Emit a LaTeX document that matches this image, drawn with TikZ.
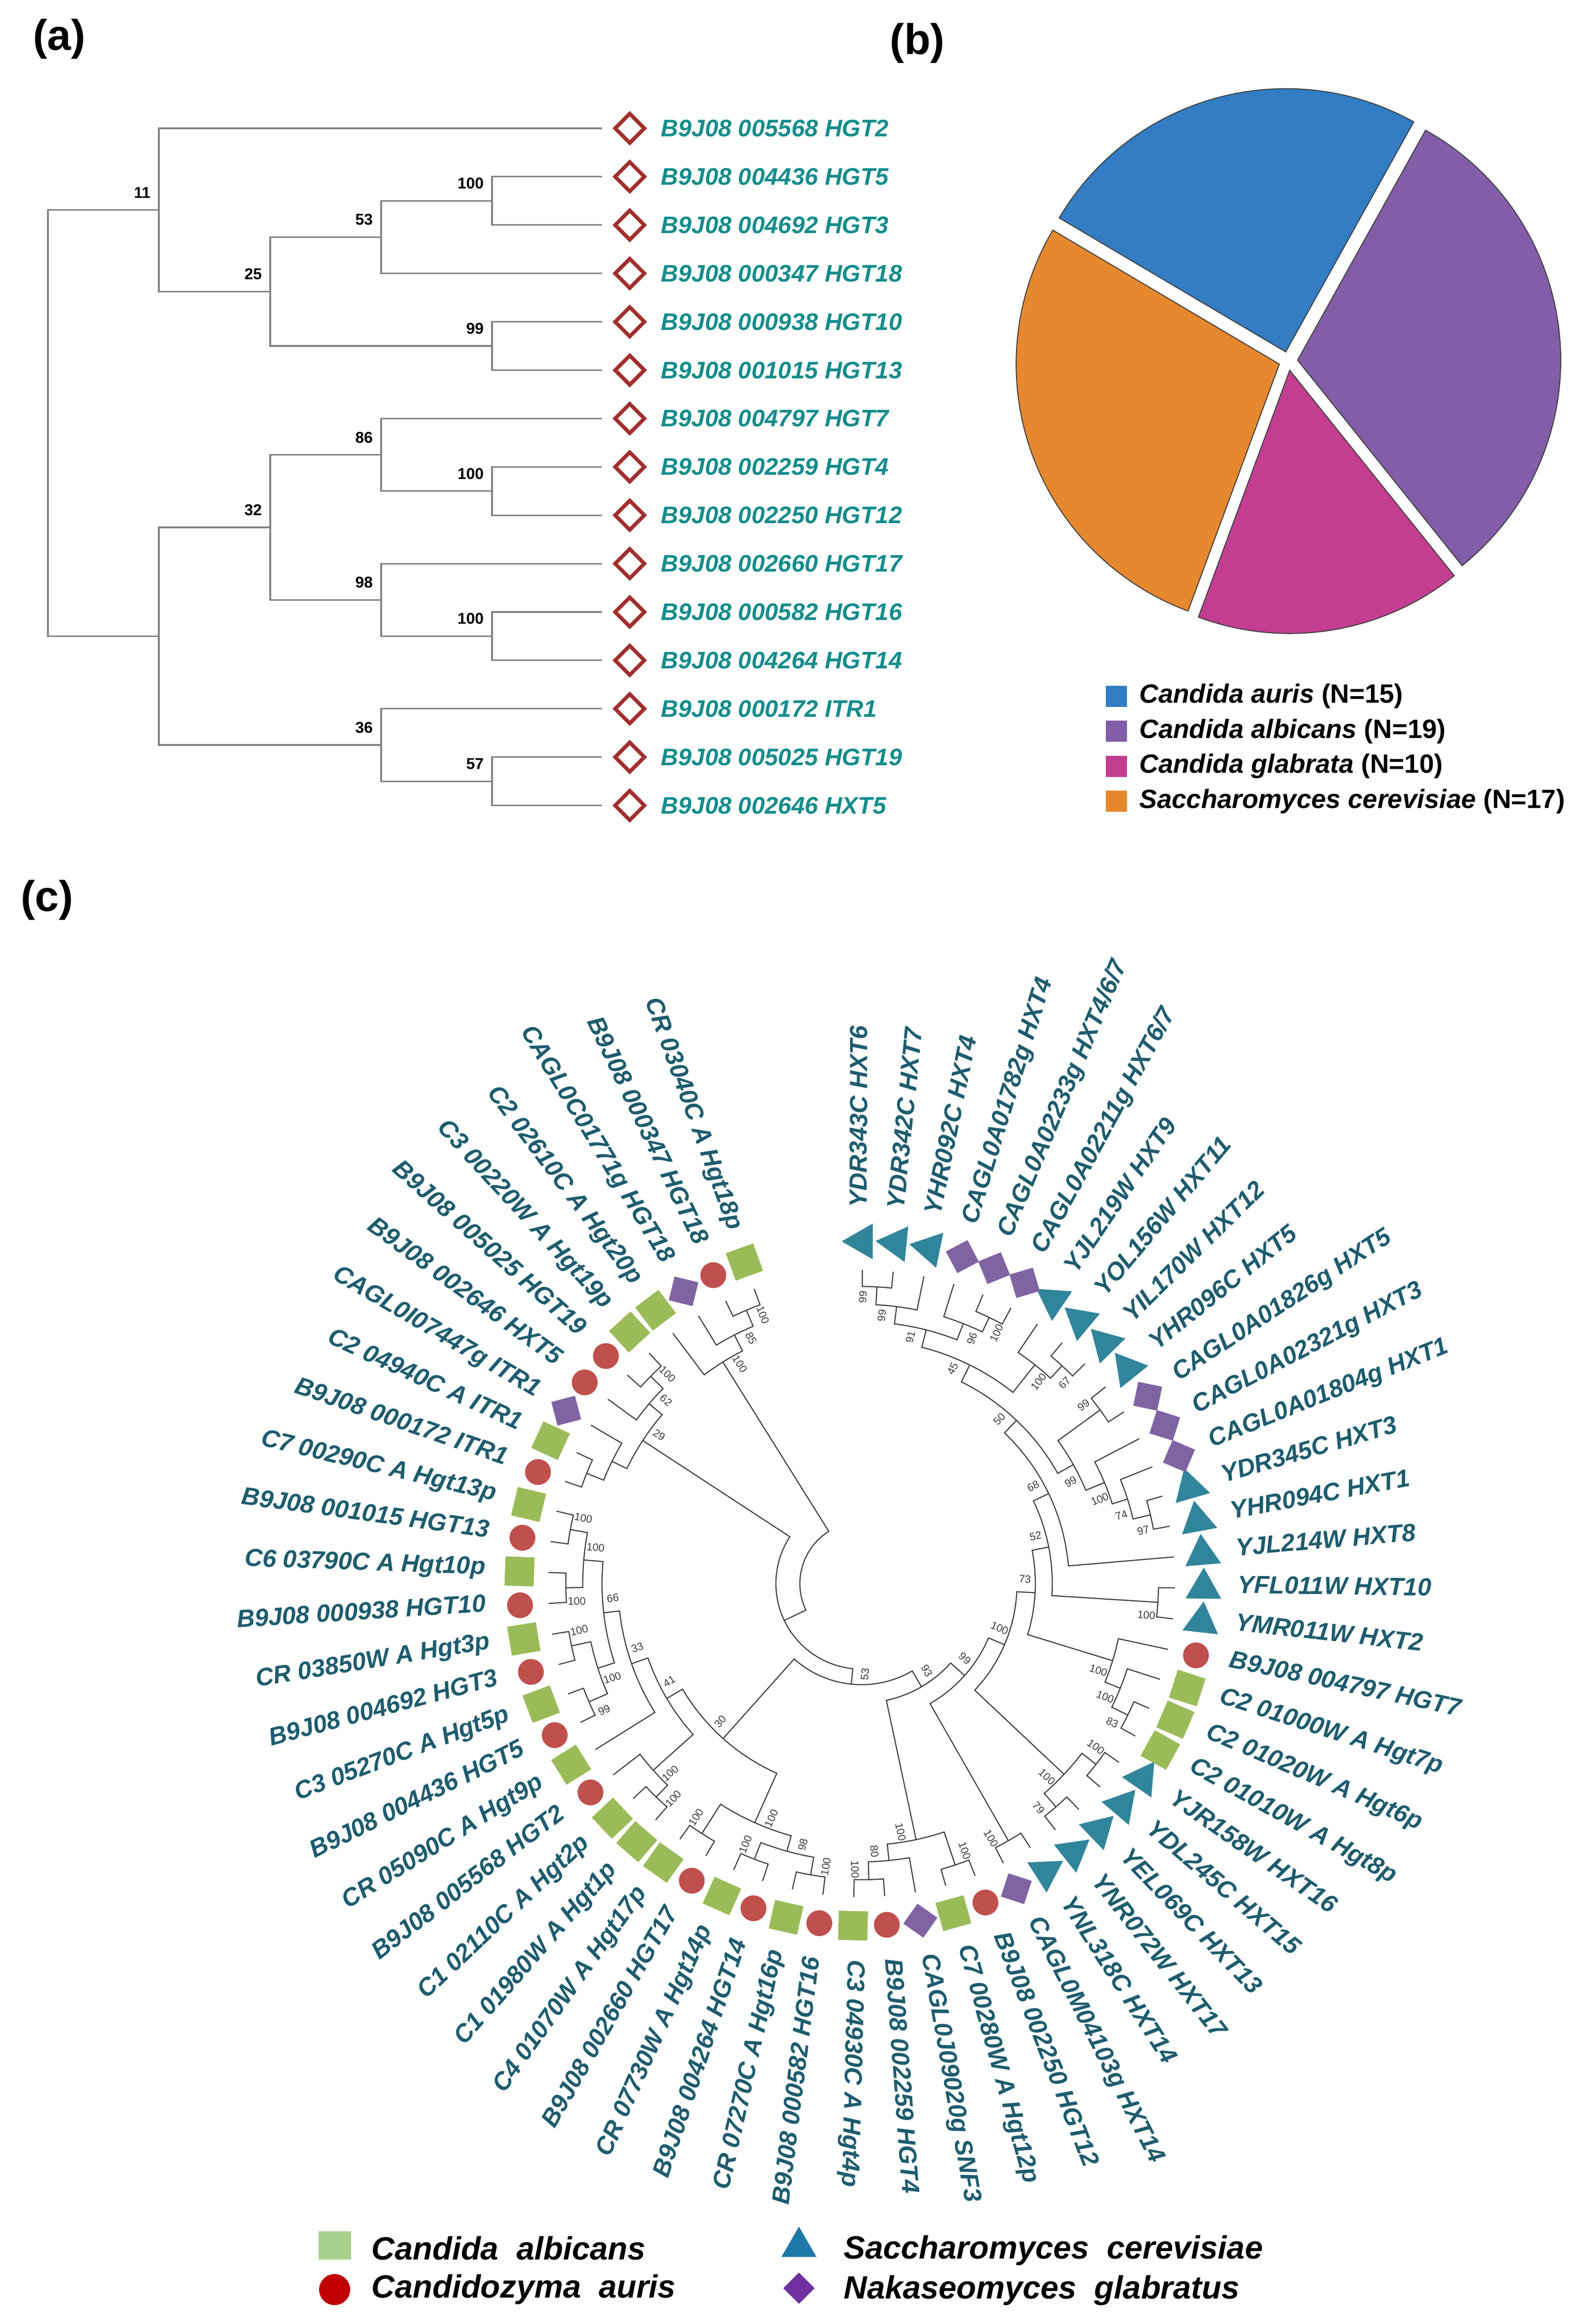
\documentclass[tikz,border=0pt]{standalone}
\usepackage{fontspec}
\setmainfont{Liberation Sans}
\usetikzlibrary{shapes.geometric}

\definecolor{atxt}{RGB}{22,140,140}
\definecolor{adred}{RGB}{160,48,46}
\definecolor{agray}{RGB}{128,128,128}
\definecolor{ctxt}{RGB}{30,92,110}
\definecolor{cline}{RGB}{60,60,60}
\definecolor{cgreen}{RGB}{155,187,89}
\definecolor{cred}{RGB}{192,80,77}
\definecolor{cpurple}{RGB}{128,100,162}
\definecolor{cteal}{RGB}{49,133,155}
\definecolor{kgreen}{RGB}{169,209,142}
\definecolor{kred}{RGB}{192,0,0}
\definecolor{kblue}{RGB}{30,120,170}
\definecolor{kpurple}{RGB}{112,48,160}
\definecolor{pblue}{RGB}{50,125,195}
\definecolor{ppurple}{RGB}{130,93,168}
\definecolor{ppink}{RGB}{195,62,145}
\definecolor{porange}{RGB}{230,136,45}

\tikzset{
    panel/.style={inner sep=0pt, font=\fontsize{26pt}{30pt}\selectfont\bfseries},
    atree/.style={draw=agray, line width=0.9pt},
    adia/.style={rectangle, draw=adred, line width=0.08cm, rotate=45, minimum size=0.44cm, inner sep=0pt},
    alab/.style={anchor=west, inner sep=0pt, text=atxt, font=\fontsize{14.5pt}{17pt}\selectfont\bfseries\itshape},
    abs/.style={anchor=east, inner sep=0pt, font=\fontsize{9.5pt}{11pt}\selectfont\bfseries},
    pkey/.style={rectangle, minimum size=0.45cm, inner sep=0pt},
    ptxt/.style={anchor=west, inner sep=0pt, font=\fontsize{16pt}{19pt}\selectfont\bfseries},
    treeline/.style={draw=cline, line width=0.65pt},
    bslab/.style={inner sep=0pt, text=cline, font=\fontsize{6.5pt}{7pt}\selectfont},
    albsq/.style={rectangle, fill=cgreen, minimum size=0.62cm, inner sep=0pt},
    aurci/.style={circle, fill=cred, minimum size=0.55cm, inner sep=0pt},
    glbdi/.style={rectangle, fill=cpurple, rotate=45, minimum size=0.52cm, inner sep=0pt},
    certr/.style={regular polygon, regular polygon sides=3, fill=cteal, minimum size=0.88cm, inner sep=0pt},
    clab/.style={inner sep=0pt, text=ctxt, font=\fontsize{15pt}{18pt}\selectfont\bfseries\itshape},
    ktxt/.style={anchor=west, inner sep=0pt, font=\fontsize{19.5pt}{23pt}\selectfont\bfseries\itshape},
}

% leaf of the circular tree: angle and tip radius
\newcommand{\leafat}[2]{%
  \pgfmathsetmacro{\lfang}{110+(#2-1)*5.664}%
  \expandafter\xdef\csname ang#1\endcsname{\lfang}%
  \expandafter\xdef\csname rad#1\endcsname{6.67}%
  \expandafter\xdef\csname sup#1\endcsname{}}

% support value of a node, put on the side away from its sister
\newcommand{\supat}[2]{%
  \edef\supv{\csname sup#1\endcsname}%
  \ifx\supv\empty\else
    \edef\supa{\csname ang#1\endcsname}\edef\supr{\csname rad#1\endcsname}%
    \pgfmathsetmacro{\supla}{\supa+#2*0.30/\supr*57.2958}%
    \pgfmathsetmacro{\suplr}{\supr-0.22}%
    \pgfmathsetmacro{\supn}{mod(\supa,360)}%
    \pgfmathsetmacro{\suprot}{(\supn>90 && \supn<266) ? \supa+180 : \supa}%
    \node[bslab, rotate=\suprot] at (\supla:\suplr) {\supv};
  \fi}

% inner node: name, radius, two children, support
\newcommand{\clade}[5]{%
  \edef\cldA{\csname ang#3\endcsname}\edef\cldB{\csname ang#4\endcsname}%
  \edef\cldrA{\csname rad#3\endcsname}\edef\cldrB{\csname rad#4\endcsname}%
  \pgfmathsetmacro{\cldm}{(\cldA+\cldB)/2}%
  \draw[treeline] (\cldA:\cldrA) -- (\cldA:#2) arc[start angle=\cldA, end angle=\cldB, radius=#2] -- (\cldB:\cldrB);
  \ifdim\cldA pt<\cldB pt \supat{#3}{-1}\supat{#4}{1}\else\supat{#3}{1}\supat{#4}{-1}\fi
  \expandafter\xdef\csname ang#1\endcsname{\cldm}%
  \expandafter\xdef\csname rad#1\endcsname{#2}%
  \expandafter\xdef\csname sup#1\endcsname{#5}}

\begin{document}
\begin{tikzpicture}
\useasboundingbox (0,0) rectangle (33.95,-49.40);

\node[panel] (pa) at (1.26,-0.83) {(a)};
\node[panel] (pb) at (19.52,-0.92) {(b)};
\node[panel] (pc) at (1.00,-19.15) {(c)};

%% (a) tree of the C. auris genes
\foreach \k/\t in {1/{B9J08 005568 HGT2}, 2/{B9J08 004436 HGT5}, 3/{B9J08 004692 HGT3}, 4/{B9J08 000347 HGT18}, 5/{B9J08 000938 HGT10}, 6/{B9J08 001015 HGT13}, 7/{B9J08 004797 HGT7}, 8/{B9J08 002259 HGT4}, 9/{B9J08 002250 HGT12}, 10/{B9J08 002660 HGT17}, 11/{B9J08 000582 HGT16}, 12/{B9J08 004264 HGT14}, 13/{B9J08 000172 ITR1}, 14/{B9J08 005025 HGT19}, 15/{B9J08 002646 HXT5}}{
  \pgfmathsetmacro{\ry}{-2.73-1.029*(\k-1)}
  \coordinate (a\k) at (12.81,\ry);
  \node[adia] (d\k) at (13.40,\ry) {};
  \node[alab] (t\k) at (14.06,\ry) {\t};
}
\coordinate (ja100) at (10.47,-4.2735);
\coordinate (j53) at (8.11,-5.0453);
\coordinate (j99) at (10.47,-7.3605);
\coordinate (j25) at (5.75,-6.2029);
\coordinate (j11) at (3.38,-4.4664);
\coordinate (jb100) at (10.47,-10.4475);
\coordinate (j86) at (8.11,-9.6758);
\coordinate (jc100) at (10.47,-13.5345);
\coordinate (j98) at (8.11,-12.7628);
\coordinate (j32) at (5.75,-11.2193);
\coordinate (j57) at (10.47,-16.6215);
\coordinate (j36) at (8.11,-15.8498);
\coordinate (jb) at (3.38,-13.5345);
\coordinate (jroot) at (1.02,-9.0005);
\draw[atree] (a2) -| (ja100) (a3) -| (ja100) (ja100) -| (j53) (a4) -| (j53)
  (a5) -| (j99) (a6) -| (j99) (j53) -| (j25) (j99) -| (j25)
  (a1) -| (j11) (j25) -| (j11)
  (a8) -| (jb100) (a9) -| (jb100) (a7) -| (j86) (jb100) -| (j86)
  (a11) -| (jc100) (a12) -| (jc100) (a10) -| (j98) (jc100) -| (j98)
  (j86) -| (j32) (j98) -| (j32)
  (a14) -| (j57) (a15) -| (j57) (a13) -| (j36) (j57) -| (j36)
  (j32) -| (jb) (j36) -| (jb)
  (j11) -| (jroot) (jb) -| (jroot);
\foreach \nd/\v in {j11/11, j25/25, j53/53, ja100/100, j99/99, j86/86, jb100/100, j32/32, j98/98, jc100/100, j36/36, j57/57}{
  \node[abs] (bs\nd) at ([shift={(-0.17,0.37)}]\nd) {\v};
}

%% (b) pie of the four species
\begin{scope}[shift={(27.41,-7.68)}]
\foreach \s/\e/\c in {-51.3/60.9/ppurple, 60.9/149.4/pblue, 149.4/249.7/porange, 249.7/308.7/ppink}{
  \pgfmathsetmacro{\wm}{(\s+\e)/2}
  \filldraw[fill=\c, draw=black!75, line width=0.6pt, shift={(\wm:0.20)}] (0,0) -- (\s:5.60) arc[start angle=\s, end angle=\e, radius=5.60] -- cycle;
}
\end{scope}
\foreach \k/\c/\sp/\n in {1/pblue/Candida auris/15, 2/ppurple/Candida albicans/19, 3/ppink/Candida glabrata/10, 4/porange/Saccharomyces cerevisiae/17}{
  \pgfmathsetmacro{\ry}{-14.81-0.745*(\k-1)}
  \node[pkey, fill=\c] (pk\k) at (23.75,\ry) {};
  \node[ptxt] (pt\k) at (24.24,\ry) {\textit{\sp} (N=\n)};
}

%% (c) circular tree
\begin{scope}[shift={(18.33,-33.69)}]
\foreach \i in {1,...,61}{\leafat{l\i}{\i}}
% left half
\clade{c12}{6.31}{l1}{l2}{100}
\clade{c123}{5.94}{c12}{l3}{85}
\clade{cA}{5.56}{c123}{l4}{100}
\clade{c56}{6.29}{l5}{l6}{100}
\clade{c567}{5.92}{c56}{l7}{62}
\clade{c910}{6.30}{l9}{l10}{}
\clade{c810}{5.91}{l8}{c910}{}
\clade{cB}{5.56}{c567}{c810}{29}
\clade{c1112}{6.30}{l11}{l12}{100}
\clade{c1314}{6.29}{l13}{l14}{100}
\clade{cM}{5.93}{c1112}{c1314}{100}
\clade{c1516}{6.31}{l15}{l16}{100}
\clade{c1718}{6.32}{l17}{l18}{99}
\clade{cN}{5.89}{c1516}{c1718}{100}
\clade{cY}{5.52}{cM}{cN}{66}
\clade{cX}{5.18}{cY}{l19}{33}
\clade{c2122}{6.30}{l21}{l22}{100}
\clade{cW}{5.95}{l20}{c2122}{100}
\clade{cP}{4.81}{cX}{cW}{41}
\clade{c2324}{6.31}{l23}{l24}{100}
\clade{c2526}{6.29}{l25}{l26}{100}
\clade{c2728}{6.29}{l27}{l28}{100}
\clade{cS}{5.91}{c2526}{c2728}{98}
\clade{cR}{5.57}{c2324}{cS}{100}
\clade{cQ}{4.42}{cP}{cR}{30}
% right half
\clade{c2930}{6.30}{l29}{l30}{100}
\clade{c2931}{5.92}{c2930}{l31}{80}
\clade{c3233}{6.31}{l32}{l33}{100}
\clade{cD}{5.57}{c2931}{c3233}{100}
\clade{cE}{6.30}{l34}{l35}{100}
\clade{c3637}{6.30}{l36}{l37}{79}
\clade{c3839}{6.30}{l38}{l39}{100}
\clade{cC}{5.92}{c3637}{c3839}{100}
\clade{c4041}{6.32}{l40}{l41}{83}
\clade{c4042}{5.94}{c4041}{l42}{100}
\clade{cF}{5.59}{c4042}{l43}{100}
\clade{cG}{6.32}{l44}{l45}{100}
\clade{c4748}{6.32}{l47}{l48}{97}
\clade{c4749}{5.94}{c4748}{l49}{74}
\clade{c4750}{5.60}{c4749}{l50}{100}
\clade{c5152}{6.28}{l51}{l52}{99}
\clade{cL}{5.17}{c4750}{c5152}{99}
\clade{c5354}{6.30}{l53}{l54}{67}
\clade{c5355}{5.94}{c5354}{l55}{100}
\clade{c5657}{6.28}{l56}{l57}{100}
\clade{c5658}{5.94}{c5657}{l58}{96}
\clade{c6061}{6.32}{l60}{l61}{99}
\clade{c5961}{5.94}{l59}{c6061}{99}
\clade{cV}{5.57}{c5658}{c5961}{91}
\clade{cO}{5.19}{c5355}{cV}{45}
\clade{cZ}{4.79}{cL}{cO}{50}
\clade{cK}{4.42}{l46}{cZ}{68}
\clade{cH}{4.06}{cG}{cK}{52}
\clade{cI}{3.70}{cF}{cH}{73}
\clade{cJ}{3.31}{cC}{cI}{100}
\clade{c99}{2.94}{cE}{cJ}{99}
\clade{c93}{2.54}{cD}{c99}{93}
\clade{c53}{2.15}{cQ}{c93}{53}
\clade{cT}{1.82}{cB}{c53}{}
\clade{cU}{1.31}{cA}{cT}{}
% tip symbols and gene names
\foreach \i/\k/\t in {1/albsq/{CR 03040C A Hgt18p}, 2/aurci/{B9J08 000347 HGT18}, 3/glbdi/{CAGL0C01771g HGT18}, 4/albsq/{C2 02610C A Hgt20p}, 5/albsq/{C3 00220W A Hgt19p}, 6/aurci/{B9J08 005025 HGT19}, 7/aurci/{B9J08 002646 HXT5}, 8/glbdi/{CAGL0I07447g ITR1}, 9/albsq/{C2 04940C A ITR1}, 10/aurci/{B9J08 000172 ITR1}, 11/albsq/{C7 00290C A Hgt13p}, 12/aurci/{B9J08 001015 HGT13}, 13/albsq/{C6 03790C A Hgt10p}, 14/aurci/{B9J08 000938 HGT10}, 15/albsq/{CR 03850W A Hgt3p}, 16/aurci/{B9J08 004692 HGT3}, 17/albsq/{C3 05270C A Hgt5p}, 18/aurci/{B9J08 004436 HGT5}, 19/albsq/{CR 05090C A Hgt9p}, 20/aurci/{B9J08 005568 HGT2}, 21/albsq/{C1 02110C A Hgt2p}, 22/albsq/{C1 01980W A Hgt1p}, 23/albsq/{C4 01070W A Hgt17p}, 24/aurci/{B9J08 002660 HGT17}, 25/albsq/{CR 07730W A Hgt14p}, 26/aurci/{B9J08 004264 HGT14}, 27/albsq/{CR 07270C A Hgt16p}, 28/aurci/{B9J08 000582 HGT16}, 29/albsq/{C3 04930C A Hgt4p}, 30/aurci/{B9J08 002259 HGT4}, 31/glbdi/{CAGL0J09020g SNF3}, 32/albsq/{C7 00280W A Hgt12p}, 33/aurci/{B9J08 002250 HGT12}, 34/glbdi/{CAGL0M04103g HXT14}, 35/certr/{YNL318C HXT14}, 36/certr/{YNR072W HXT17}, 37/certr/{YEL069C HXT13}, 38/certr/{YDL245C HXT15}, 39/certr/{YJR158W HXT16}, 40/albsq/{C2 01010W A Hgt8p}, 41/albsq/{C2 01020W A Hgt6p}, 42/albsq/{C2 01000W A Hgt7p}, 43/aurci/{B9J08 004797 HGT7}, 44/certr/{YMR011W HXT2}, 45/certr/{YFL011W HXT10}, 46/certr/{YJL214W HXT8}, 47/certr/{YHR094C HXT1}, 48/certr/{YDR345C HXT3}, 49/glbdi/{CAGL0A01804g HXT1}, 50/glbdi/{CAGL0A02321g HXT3}, 51/glbdi/{CAGL0A01826g HXT5}, 52/certr/{YHR096C HXT5}, 53/certr/{YIL170W HXT12}, 54/certr/{YOL156W HXT11}, 55/certr/{YJL219W HXT9}, 56/glbdi/{CAGL0A02211g HXT6\slash 7}, 57/glbdi/{CAGL0A02233g HXT4\slash 6\slash 7}, 58/glbdi/{CAGL0A01782g HXT4}, 59/certr/{YHR092C HXT4}, 60/certr/{YDR342C HXT7}, 61/certr/{YDR343C HXT6}}{
  \pgfmathsetmacro{\lfa}{110+(\i-1)*5.664}
  \pgfmathsetmacro{\lfn}{mod(\lfa,360)}
  \pgfmathtruncatemacro{\lff}{(\lfn>90 && \lfn<266) ? 1 : 0}
  \node[\k, rotate=\lfa] (mk\i) at (\lfa:7.28) {};
  \ifnum\lff=1
    \node[clab, anchor=mid east, rotate=\lfa+180] (lab\i) at (\lfa:8.0) {\t};
  \else
    \node[clab, anchor=mid west, rotate=\lfa] (lab\i) at (\lfa:8.0) {\t};
  \fi
}
\end{scope}

% key of (c)
\node[rectangle, fill=kgreen, minimum width=0.69cm, minimum height=0.60cm, inner sep=0pt] (k1) at (7.12,-47.77) {};
\node[circle, fill=kred, minimum size=0.66cm, inner sep=0pt] (k2) at (7.12,-48.71) {};
\node[regular polygon, regular polygon sides=3, fill=kblue, minimum size=0.86cm, inner sep=0pt] (k3) at (17.00,-47.80) {};
\node[rectangle, rotate=45, fill=kpurple, minimum size=0.47cm, inner sep=0pt] (k4) at (17.00,-48.68) {};
\node[ktxt] (kt1) at (7.90,-47.83) {Candida\ \ albicans};
\node[ktxt] (kt2) at (7.90,-48.71) {Candidozyma\ \ auris};
\node[ktxt] (kt3) at (17.95,-47.88) {Saccharomyces\ \ cerevisiae};
\node[ktxt] (kt4) at (17.95,-48.73) {Nakaseomyces\ \ glabratus};
\end{tikzpicture}
\end{document}
